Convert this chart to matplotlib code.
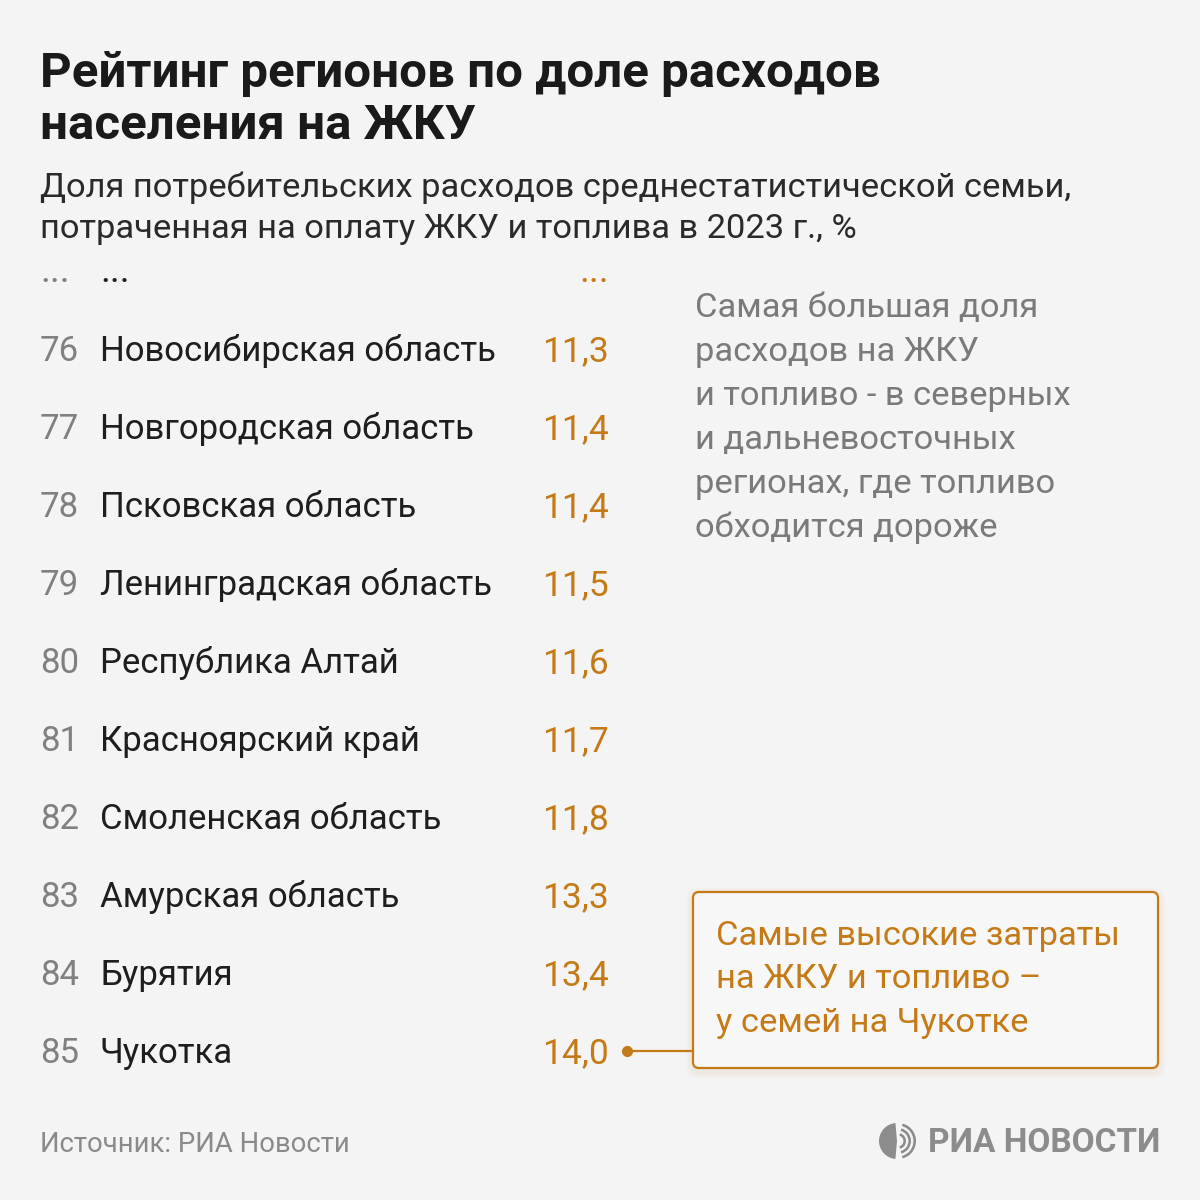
import matplotlib
matplotlib.use("Agg")
import matplotlib.pyplot as plt
from matplotlib.patches import FancyBboxPatch, Wedge

plt.rcParams['font.family'] = ['Roboto', 'DejaVu Sans']

ranks = [76, 77, 78, 79, 80, 81, 82, 83, 84, 85]
regions = ["Новосибирская область", "Новгородская область", "Псковская область",
           "Ленинградская область", "Республика Алтай", "Красноярский край",
           "Смоленская область", "Амурская область", "Бурятия", "Чукотка"]
values = [11.3, 11.4, 11.4, 11.5, 11.6, 11.7, 11.8, 13.3, 13.4, 14.0]

title_lines = ["Рейтинг регионов по доле расходов", "населения на ЖКУ"]
subtitle_lines = ["Доля потребительских расходов среднестатистической семьи,",
                  "потраченная на оплату ЖКУ и топлива в 2023 г., %"]
note_lines = ["Самая большая доля", "расходов на ЖКУ", "и топливо - в северных",
              "и дальневосточных", "регионах, где топливо", "обходится дороже"]
callout_lines = ["Самые высокие затраты", "на ЖКУ и топливо –", "у семей на Чукотке"]
source = "Источник: РИА Новости"

BG = "#F4F4F4"
ORANGE = "#C47A17"
GRAY = "#808080"
DARK = "#1E1E1E"

fig = plt.figure(figsize=(12, 12), dpi=100, facecolor=BG)
ax = fig.add_axes([0, 0, 1, 1])
ax.set_xlim(0, 1200)
ax.set_ylim(1200, 0)
ax.axis("off")
ax.set_facecolor(BG)

for i, line in enumerate(title_lines):
    ax.text(40, 87 + i * 52, line, fontsize=35.5, fontweight="bold", color="#1A1A1A",
            va="baseline", ha="left")
for i, line in enumerate(subtitle_lines):
    ax.text(40, 197 + i * 41, line, fontsize=24.8, color="#2A2A2A",
            va="baseline", ha="left")

# ellipsis row
ax.text(40, 282, "...", fontsize=27, color=GRAY, va="baseline")
ax.text(100, 282, "...", fontsize=27, color=DARK, va="baseline")
ax.text(609, 282, "...", fontsize=27, color=ORANGE, va="baseline", ha="right")

row0 = 361
step = 78
for i, (r, name, v) in enumerate(zip(ranks, regions, values)):
    y = row0 + i * step
    ax.text(40, y, str(r), fontsize=25, color=GRAY, va="baseline", ha="left")
    ax.text(100, y, name, fontsize=25, color=DARK, va="baseline", ha="left")
    ax.text(609, y, f"{v:.1f}".replace(".", ","), fontsize=25.5, color=ORANGE,
            va="baseline", ha="right")

# right note
for i, line in enumerate(note_lines):
    ax.text(695, 317 + i * 44, line, fontsize=24.8, color="#7A7A7A",
            va="baseline", ha="left")

# callout box with shadow
for k, a in enumerate([0.035, 0.03, 0.025]):
    pad = 7 - 2 * k
    sh = FancyBboxPatch((693 - pad, 892 - pad + 3), 465 + 2 * pad, 176 + 2 * pad,
                        boxstyle="round,pad=0,rounding_size=12",
                        fc="#C47A17", ec="none", alpha=a, zorder=1)
    ax.add_patch(sh)
box = FancyBboxPatch((693, 892), 465, 176, boxstyle="round,pad=0,rounding_size=6",
                     fc="#F7F7F7", ec=ORANGE, lw=1.6, zorder=2)
ax.add_patch(box)
for i, line in enumerate(callout_lines):
    ax.text(716, 945 + i * 43.5, line, fontsize=24.8, color=ORANGE,
            va="baseline", ha="left", zorder=3)

# connector from last value
last_y = row0 + (len(ranks) - 1) * step - 12
ax.plot([627, 693], [last_y, last_y], color=ORANGE, lw=1.6, zorder=3)
ax.plot([627], [last_y], marker="o", ms=7, color=ORANGE, zorder=4)

# footer
ax.text(40, 1152, source, fontsize=19.8, color="#8A8A8A", va="baseline", ha="left")
ax.text(1160, 1152, "РИА НОВОСТИ", fontsize=24, fontweight="bold", color="#8C8C8C",
        va="baseline", ha="right")
# logo icon
cx, cy = 897, 1141
ax.add_patch(Wedge((cx, cy), 18, 95, 265, width=18, fc="#8C8C8C", ec="none"))
for rr in [8, 13, 18]:
    ax.add_patch(Wedge((cx + 1, cy), rr, -75, 75, width=2.6, fc="#8C8C8C", ec="none"))

fig.savefig("out.png", dpi=100, facecolor=BG)
